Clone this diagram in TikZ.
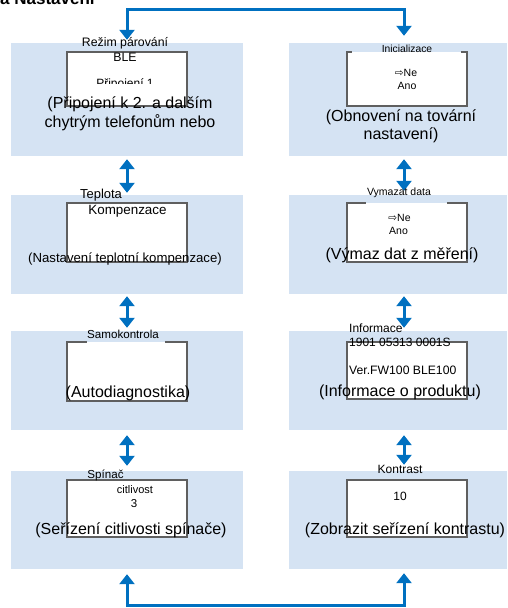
\documentclass[tikz,border=0pt]{standalone}
\usepackage{fontspec}
\setmainfont{Liberation Sans}
\newfontfamily\symfont{DejaVu Sans}
\usetikzlibrary{arrows.meta}
\definecolor{panelblue}{RGB}{213,227,243}
\definecolor{arrowblue}{RGB}{0,112,192}
\definecolor{framegray}{RGB}{95,95,95}
\tikzset{
  panel/.style={fill=panelblue, draw=none, inner sep=0pt},
  screen/.style={fill=white, draw=none, inner sep=0pt, minimum width=120pt},
  frame/.style={draw=framegray, line width=1.5pt, line join=miter},
  link/.style={draw=arrowblue, line width=3pt,
    {Triangle[width=15pt,length=10pt]}-{Triangle[width=15pt,length=10pt]}},
  lab/.style={inner sep=0pt, text=black},
  captxt/.style={inner sep=0pt, align=center, text=black, font=\fontsize{16}{19}\selectfont},
}
\begin{document}
\begin{tikzpicture}[x=1pt,y=-1pt]
\useasboundingbox (0,0) rectangle (507,608);
% title (cut at top in the reference)
\node[lab, anchor=base west, font=\fontsize{17}{19}\selectfont\bfseries] (title) at (0,4.5) {a Nastavení};

% panels
\node[panel, minimum width=232pt, minimum height=113pt] (L1) at (127,99.5) {};
\node[panel, minimum width=218pt, minimum height=113pt] (R1) at (398,99.5) {};
\node[panel, minimum width=232pt, minimum height=99pt] (L2) at (127,244.5) {};
\node[panel, minimum width=218pt, minimum height=99pt] (R2) at (398,244.5) {};
\node[panel, minimum width=232pt, minimum height=99pt] (L3) at (127,380.5) {};
\node[panel, minimum width=218pt, minimum height=99pt] (R3) at (398,380.5) {};
\node[panel, minimum width=232pt, minimum height=98pt] (L4) at (127,520) {};
\node[panel, minimum width=218pt, minimum height=98pt] (R4) at (398,520) {};

% screens
\node[screen, frame, minimum height=54pt] (SL1) at (127,79) {};
\node[screen, minimum height=54pt] (SR1) at (407,79) {};
\draw[frame] ([xshift=5pt]SR1.north west) -| (SR1.south west) -| (SR1.north east) -- ++(-6,0);
\node[screen, frame, minimum height=59pt] (SL2) at (127,232.5) {};
\node[screen, minimum height=59pt] (SR2) at (407,232.5) {};
\draw[frame] ([xshift=19pt]SR2.north west) -| (SR2.south west) -| (SR2.north east) -- ++(-20,0);
\node[screen, minimum height=59pt] (SL3) at (127,371.5) {};
\draw[frame] ([xshift=20pt]SL3.north west) -| (SL3.south west) -| (SL3.north east) -- ++(-22,0);
\node[screen, frame, minimum height=57pt] (SR3) at (407,370.5) {};
\node[screen, frame, minimum height=57pt] (SL4) at (127,508.5) {};
\node[screen, frame, minimum height=57pt] (SR4) at (407,508.5) {};

% connectors
\coordinate (tl) at (127,9);
\coordinate (tr) at (404,9);
\coordinate (bl) at (127,605);
\coordinate (br) at (404,605);
\draw[link, shorten <=3pt, shorten >=7pt] (L1.north) -- (tl) -- (tr) -- (tr |- R1.north);
\draw[link, shorten <=5pt, shorten >=4pt] (L4.south) -- (bl) -- (br) -- (br |- R4.south);
\draw[link, shorten <=3pt, shorten >=2pt] (L1.south) -- (L2.north);
\draw[link, shorten <=2pt, shorten >=3pt] (L2.south) -- (L3.north);
\draw[link, shorten <=5pt, shorten >=5pt] (L3.south) -- (L4.north);
\draw[link, shorten <=3pt, shorten >=4pt] ([xshift=6pt]R1.south) -- ([xshift=6pt]R2.north);
\draw[link, shorten <=2pt, shorten >=3pt] ([xshift=6pt]R2.south) -- ([xshift=6pt]R3.north);
\draw[link, shorten <=5pt, shorten >=6pt] ([xshift=6pt]R3.south) -- ([xshift=6pt]R4.north);

% texts L1
\node[lab, font=\fontsize{12.3}{14}\selectfont] (t1a) at (125,43) {Režim párování};
\node[lab, font=\fontsize{12.3}{14}\selectfont] (t1b) at (125,57) {BLE};
\begin{scope}
\clip (60,60) rectangle (190,83.5);
\node[lab, anchor=base, font=\fontsize{12}{14}\selectfont] (t1c) at (125,87.5) {Připojení 1};
\end{scope}
\node[captxt] (c1) at (130,113.5) {(Připojení k 2. a dalším\\chytrým telefonům nebo};

% texts R1
\node[lab, font=\fontsize{10.3}{12}\selectfont] (t2a) at (407,49) {Inicializace};
\node[lab, font=\fontsize{10.5}{12}\selectfont] (t2b) at (406,73) {{\symfont ⇨}Ne};
\node[lab, font=\fontsize{10.5}{12}\selectfont] (t2c) at (407,86) {Ano};
\node[captxt, font=\fontsize{16}{18}\selectfont] (c2) at (401,126) {(Obnovení na tovární\\nastavení)};

% texts L2
\node[lab, font=\fontsize{13}{15}\selectfont] (t3a) at (101,195) {Teplota};
\node[lab, font=\fontsize{13.4}{15}\selectfont] (t3b) at (127.5,211) {Kompenzace};
\node[lab, font=\fontsize{13.2}{15}\selectfont] (c3) at (125,259) {(Nastavení teplotní kompenzace)};

% texts R2
\node[lab, font=\fontsize{10.5}{12}\selectfont] (t4a) at (399,193) {Vymazat data};
\node[lab, font=\fontsize{10.5}{12}\selectfont] (t4b) at (399.5,218) {{\symfont ⇨}Ne};
\node[lab, font=\fontsize{10.5}{12}\selectfont] (t4c) at (398.5,231) {Ano};
\node[captxt] (c4) at (402,255) {(Výmaz dat z měření)};

% texts L3
\node[lab, font=\fontsize{11.6}{13}\selectfont] (t5a) at (123,334) {Samokontrola};
\node[captxt] (c5) at (128,393) {(Autodiagnostika)};

% texts R3
\node[lab, anchor=west, font=\fontsize{12}{14}\selectfont] (t6a) at (349,328) {Informace};
\node[lab, anchor=west, font=\fontsize{12}{14}\selectfont] (t6b) at (349,342) {1901 05313 0001S};
\node[lab, anchor=west, font=\fontsize{12.2}{14}\selectfont] (t6c) at (349,370) {Ver.FW100 BLE100};
\node[captxt] (c6) at (400,392) {(Informace o produktu)};

% texts L4
\node[lab, font=\fontsize{11.6}{13}\selectfont] (t7a) at (105.5,475) {Spínač};
\node[lab, font=\fontsize{11}{13}\selectfont] (t7b) at (135,490) {citlivost};
\node[lab, font=\fontsize{11.5}{13}\selectfont] (t7c) at (134,504) {3};
\node[captxt] (c7) at (131,530) {(Seřízení citlivosti spínače)};

% texts R4
\node[lab, font=\fontsize{12}{14}\selectfont] (t8a) at (400,469) {Kontrast};
\node[lab, font=\fontsize{12}{14}\selectfont] (t8b) at (400,496) {10};
\node[captxt] (c8) at (405,530) {(Zobrazit seřízení kontrastu)};
\end{tikzpicture}
\end{document}
